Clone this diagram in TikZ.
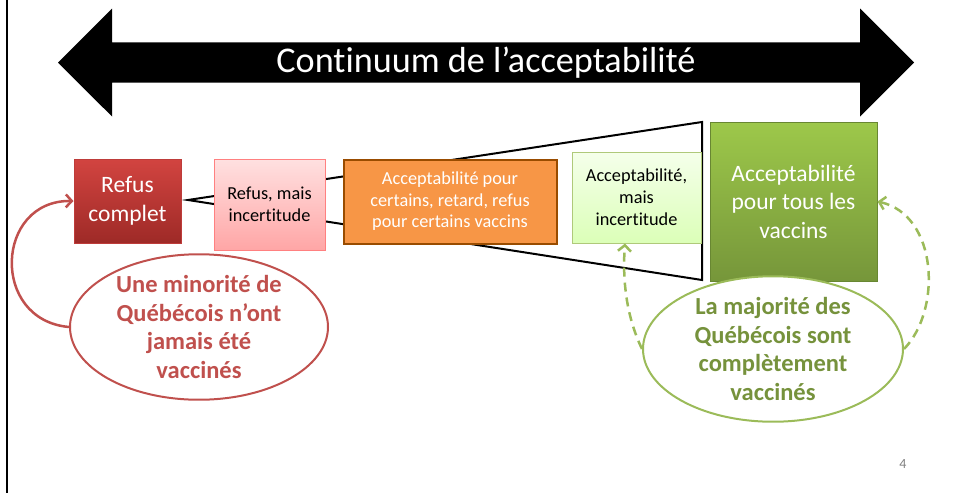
\documentclass[tikz,border=0pt]{standalone}
\usepackage{fontspec}
\setmainfont{Carlito}[Ligatures={NoCommon,NoContextual},RawFeature={-liga;-clig;-calt;-dlig;-rlig}]
\usetikzlibrary{shapes,arrows.meta}
\usetikzlibrary{positioning}
\usetikzlibrary{shapes.geometric,shapes.arrows}

\definecolor{rougefonce}{HTML}{C0504D}
\definecolor{vertclair}{HTML}{9BBB59}
\definecolor{vertfonce}{HTML}{76923C}

\begin{document}
\begin{tikzpicture}[x=1pt,y=-1pt,node distance=2em,>={Straight Barb[length=6pt,width=13pt]}]
\tikzstyle{every node}=[font=\fontsize{18.3}{22}\selectfont,align=center,inner sep=0pt]
\tikzstyle{boite}=[draw,line width=1pt]
\tikzstyle{gros}=[font=\fontsize{23.5}{28.5}\selectfont,text=white]
\tikzstyle{bulle}=[ellipse,draw,fill=white,line width=2pt,font=\bfseries\fontsize{24.5}{28.5}\selectfont]
\path[use as bounding box] (0,0) rectangle (956,493);
\draw[line width=2pt] (7,0) -- (7,493);

\path node[double arrow,fill=black,text=white,minimum height=856pt,minimum width=108pt,
  double arrow head extend=26.5pt,font=\fontsize{36.2}{40}\selectfont] (cont) at (486,62.5) {Continuum de l’acceptabilité};

% entonnoir derriere les boites
\draw[fill=white,line width=2pt,line join=miter] (188,200) -- (702,122) -- (702,280) -- cycle;

\path node[boite,gros,draw={rgb,255:red,190;green,60;blue,58},top color={rgb,255:red,210;green,68;blue,64},
  bottom color={rgb,255:red,158;green,42;blue,39},minimum width=107pt,minimum height=84pt] (rc) at (127.5,201) {Refus\\complet};
\path node[boite,draw=red!50,top color=red!12,bottom color=red!35,minimum width=111pt,minimum height=91pt,
  right=32pt of rc.north east,anchor=north west] (rmi) {Refus, mais\\incertitude};
\path node[boite,draw=orange!60!black,line width=2pt,fill={rgb,255:red,247;green,150;blue,70},text=white,
  minimum width=213pt,minimum height=84pt,font=\fontsize{18.3}{21.5}\selectfont,
  right=17pt of rmi.north east,anchor=north west] (acr) {Acceptabilité pour\\certains, retard, refus\\pour certains vaccins};
\path node[boite,draw=vertclair!80,top color=green!50!yellow!8,bottom color=green!50!yellow!28,
  minimum width=129pt,minimum height=91pt,right=14pt of acr.north east,anchor=north west,yshift=7pt] (ami) {Acceptabilité,\\mais\\incertitude};
\path node[boite,gros,draw={rgb,255:red,104;green,135;blue,50},top color={rgb,255:red,157;green,200;blue,74},
  bottom color={rgb,255:red,118;green,150;blue,58},minimum width=167pt,minimum height=159pt] (atv) at (793.5,201.5) {Acceptabilité\\pour tous les\\vaccins};

\path node[bulle,draw=rougefonce,text=rougefonce,minimum width=258pt,minimum height=136pt] (minq) at (199,327)
  {Une minorité de\\Québécois n’ont\\jamais été\\vaccinés};
\path node[bulle,draw=vertclair,text=vertfonce,minimum width=260pt,minimum height=118pt] (majq) at (773,349)
  {La majorité des\\Québécois sont\\complètement\\vaccinés};

\draw[->,rougefonce,line width=2.5pt] (minq.west) .. controls (-10,320) and (-5,200) .. (rc.west);
\draw[->,vertclair,line width=2.5pt,dash pattern=on 9pt off 6pt] (majq.west) .. controls (628,320) and (622,285) .. ([xshift=-11.5pt]ami.south);
\draw[->,vertclair,line width=2.5pt,dash pattern=on 9pt off 6pt] (majq.east) .. controls (942,310) and (938,215) .. (atv.east);

\path node[text=gray,font=\fontsize{14}{16}\selectfont] (page) at (903,464) {4};
\end{tikzpicture}
\end{document}
